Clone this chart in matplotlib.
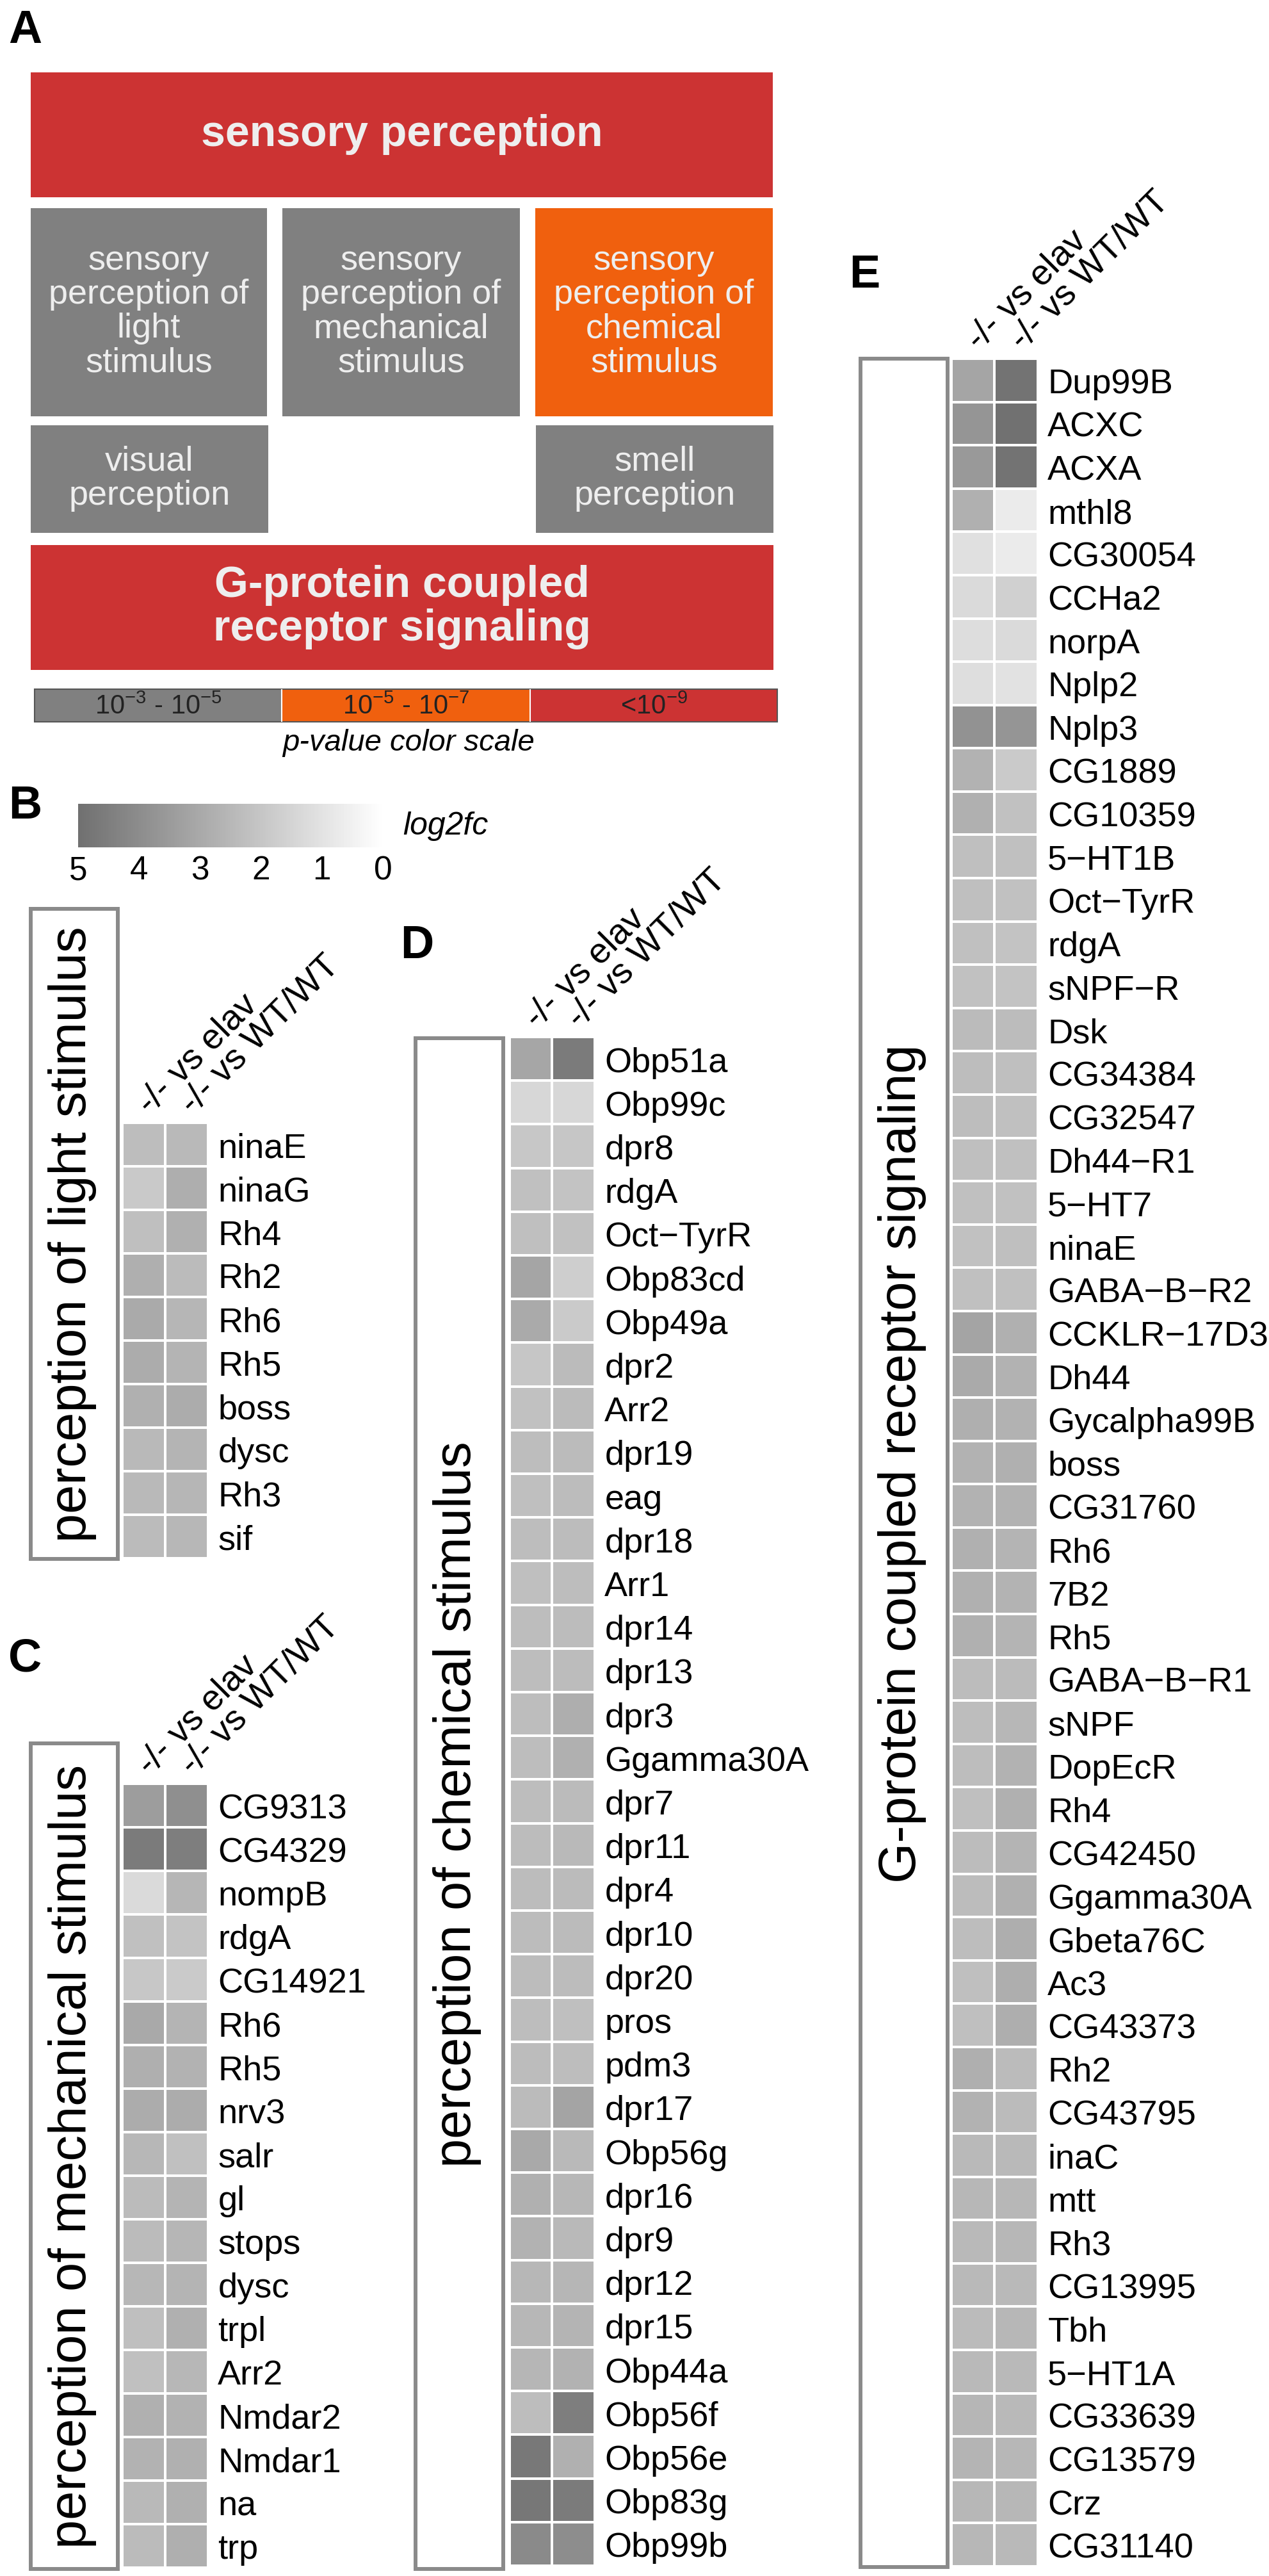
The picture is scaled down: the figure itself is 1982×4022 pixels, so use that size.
import numpy as np
import matplotlib
matplotlib.use("Agg")
import matplotlib.pyplot as plt
from matplotlib.patches import Rectangle
from matplotlib.colors import LinearSegmentedColormap, Normalize
from matplotlib.cm import ScalarMappable

plt.rcParams['font.family'] = ['Liberation Sans', 'DejaVu Sans']
plt.rcParams['mathtext.fontset'] = 'custom'
plt.rcParams['mathtext.rm'] = 'Liberation Sans'
plt.rcParams['mathtext.it'] = 'Liberation Sans:italic'

# ---- data ----
cols = ["-/- vs elav", "-/- vs WT/WT"]

B_genes = ["ninaE", "ninaG", "Rh4", "Rh2", "Rh6", "Rh5", "boss", "dysc", "Rh3", "sif"]
B_elav = [2.3, 1.9, 2.25, 2.8, 2.95, 2.9, 2.75, 2.45, 2.45, 2.4]
B_wt = [2.45, 2.85, 2.75, 2.4, 2.55, 2.6, 2.9, 2.6, 2.55, 2.5]

C_genes = ["CG9313", "CG4329", "nompB", "rdgA", "CG14921", "Rh6", "Rh5", "nrv3", "salr",
           "gl", "stops", "dysc", "trpl", "Arr2", "Nmdar2", "Nmdar1", "na", "trp"]
C_elav = [3.4, 4.6, 1.3, 2.2, 1.95, 3.0, 2.8, 2.9, 2.5, 2.4, 2.4, 2.5, 2.25, 2.2, 2.75, 2.7, 2.45, 2.4]
C_wt = [3.9, 4.5, 2.55, 2.1, 1.85, 2.6, 2.7, 2.9, 2.2, 2.6, 2.55, 2.6, 2.75, 2.5, 2.7, 2.75, 2.75, 2.8]

D_genes = ["Obp51a", "Obp99c", "dpr8", "rdgA", "Oct\u2212TyrR", "Obp83cd", "Obp49a", "dpr2", "Arr2",
           "dpr19", "eag", "dpr18", "Arr1", "dpr14", "dpr13", "dpr3", "Ggamma30A", "dpr7", "dpr11",
           "dpr4", "dpr10", "dpr20", "pros", "pdm3", "dpr17", "Obp56g", "dpr16", "dpr9", "dpr12",
           "dpr15", "Obp44a", "Obp56f", "Obp56e", "Obp83g", "Obp99b"]
D_elav = [3.1, 1.4, 1.95, 2.2, 2.25, 3.15, 2.95, 2.0, 2.15, 2.3, 2.25, 2.3, 2.25, 2.3, 2.3,
          2.3, 2.3, 2.3, 2.35, 2.35, 2.35, 2.35, 2.3, 2.35, 2.4, 3.0, 2.75, 2.7, 2.5, 2.5,
          2.55, 2.3, 4.7, 4.75, 4.1]
D_wt = [4.6, 1.4, 2.0, 2.1, 2.15, 1.7, 1.85, 2.4, 2.4, 2.4, 2.35, 2.35, 2.3, 2.35, 2.35,
        2.85, 2.75, 2.4, 2.45, 2.4, 2.4, 2.35, 2.25, 2.3, 3.2, 2.45, 2.5, 2.45, 2.55, 2.6,
        2.7, 4.5, 2.75, 4.6, 4.0]

E_genes = ["Dup99B", "ACXC", "ACXA", "mthl8", "CG30054", "CCHa2", "norpA", "Nplp2", "Nplp3",
           "CG1889", "CG10359", "5\u2212HT1B", "Oct\u2212TyrR", "rdgA", "sNPF\u2212R", "Dsk", "CG34384",
           "CG32547", "Dh44\u2212R1", "5\u2212HT7", "ninaE", "GABA\u2212B\u2212R2", "CCKLR\u221217D3", "Dh44",
           "Gycalpha99B", "boss", "CG31760", "Rh6", "7B2", "Rh5", "GABA\u2212B\u2212R1", "sNPF",
           "DopEcR", "Rh4", "CG42450", "Ggamma30A", "Gbeta76C", "Ac3", "CG43373", "Rh2",
           "CG43795", "inaC", "mtt", "Rh3", "CG13995", "Tbh", "5\u2212HT1A", "CG33639", "CG13579",
           "Crz", "CG31140"]
E_elav = [3.15, 3.7, 3.55, 2.75, 1.1, 1.3, 1.2, 1.15, 3.8, 2.7,
          2.75, 2.25, 2.25, 2.2, 2.15, 2.4, 2.3, 2.3, 2.25, 2.2,
          2.15, 2.2, 3.2, 2.95, 2.8, 2.7, 2.7, 2.75, 2.75, 2.75,
          2.35, 2.3, 2.3, 2.25, 2.35, 2.35, 2.3, 2.25, 2.25, 2.8,
          2.7, 2.45, 2.5, 2.45, 2.45, 2.4, 2.45, 2.55, 2.6, 2.5, 2.5]
E_wt = [4.9, 4.95, 4.9, 0.7, 0.7, 1.65, 1.3, 1.0, 3.7, 1.85,
        2.15, 2.2, 2.15, 2.1, 2.1, 2.35, 2.25, 2.2, 2.2, 2.15,
        2.25, 2.2, 2.75, 2.7, 2.7, 2.75, 2.7, 2.6, 2.65, 2.6,
        2.4, 2.5, 2.7, 2.75, 2.6, 2.75, 2.85, 2.85, 2.85, 2.4,
        2.4, 2.45, 2.5, 2.5, 2.45, 2.5, 2.45, 2.45, 2.5, 2.5, 2.45]

pval_labels = [r"10$^{-3}$ - 10$^{-5}$", r"10$^{-5}$ - 10$^{-7}$", r"<10$^{-9}$"]
pval_colors = ["#808080", "#f0600e", "#cc3333"]
cbar_ticks = [5, 4, 3, 2, 1, 0]

# ---- figure in pixel coordinates ----
W, H = 1983, 4023
fig = plt.figure(figsize=(W / 100, H / 100), dpi=100)
bg = fig.add_axes([0, 0, 1, 1])
bg.set_xlim(0, W)
bg.set_ylim(H, 0)
bg.axis('off')

def px_axes(x0, y0, x1, y1):
    return fig.add_axes([x0 / W, 1 - y1 / H, (x1 - x0) / W, (y1 - y0) / H])

txtc = '#eeeeee'

# panel letters
for lab, x, y in [("A", 13, 67), ("B", 13, 1278), ("C", 13, 2610), ("D", 625, 1496), ("E", 1326, 449)]:
    bg.text(x, y, lab, fontsize=52, fontweight='bold', ha='left', va='baseline')

# ---- panel A: GO term boxes ----
boxes = [
    (48, 114, 1207, 309, "#cc3333", "sensory perception", 49, 'bold'),
    (48, 326, 417, 651, "#808080", "sensory\nperception of\nlight\nstimulus", 39, 'normal'),
    (441, 326, 812, 651, "#808080", "sensory\nperception of\nmechanical\nstimulus", 39, 'normal'),
    (836, 326, 1207, 651, "#f0600e", "sensory\nperception of\nchemical\nstimulus", 39, 'normal'),
    (48, 665, 419, 833, "#808080", "visual\nperception", 39, 'normal'),
    (837, 665, 1208, 833, "#808080", "smell\nperception", 39, 'normal'),
    (48, 852, 1208, 1047, "#cc3333", "G-protein coupled\nreceptor signaling", 49, 'bold'),
]
for x0, y0, x1, y1, c, t, fs, fw in boxes:
    bg.add_patch(Rectangle((x0, y0), x1 - x0, y1 - y0, facecolor=c, edgecolor='none'))
    bg.text((x0 + x1) / 2, (y0 + y1) / 2 - 2, t, ha='center', va='center', color=txtc,
            fontsize=fs, fontweight=fw, linespacing=1.08)

# p-value color scale
edges = [54, 440, 828, 1214]
for i in range(3):
    bg.add_patch(Rectangle((edges[i], 1077), edges[i + 1] - edges[i], 51,
                           facecolor=pval_colors[i], edgecolor='none'))
    bg.text((edges[i] + edges[i + 1]) / 2, 1104, pval_labels[i], ha='center', va='center',
            fontsize=30, color='#222222')
for e in edges[1:-1]:
    bg.plot([e, e], [1078, 1127], color='white', lw=1.5)
bg.add_patch(Rectangle((54, 1077), 1160, 51, facecolor='none', edgecolor='#555555', lw=1.5))
bg.text(638, 1160, "p-value color scale", ha='center', va='center', fontsize=34, style='italic')

# ---- log2fc color bar ----
cmap = LinearSegmentedColormap.from_list('grey', ['#ffffff', '#707070'])
norm = Normalize(0, 5)
cax = px_axes(122, 1256, 598, 1324)
cb = fig.colorbar(ScalarMappable(norm=norm, cmap=cmap), cax=cax, orientation='horizontal')
cax.set_xlim(5, 0)
cb.outline.set_visible(False)
cb.set_ticks(cbar_ticks)
cb.set_ticklabels([str(t) for t in cbar_ticks])
cax.tick_params(length=0, labelsize=37, pad=8)
bg.text(629, 1290, "log2fc", ha='left', va='center', fontsize=36, style='italic')

# ---- heatmaps ----
def heat(x0, y0, x1, y1, genes, elav, wt):
    ax = px_axes(x0, y0, x1, y1)
    vals = np.column_stack([elav, wt])
    ax.pcolormesh(vals, cmap=cmap, norm=norm, edgecolors='white', linewidth=1.6)
    ax.set_xlim(0, 2)
    ax.set_ylim(len(genes), 0)
    ax.set_yticks(np.arange(len(genes)) + 0.5)
    ax.set_yticklabels(genes, fontsize=39)
    ax.yaxis.tick_right()
    ax.xaxis.tick_top()
    ax.set_xticks([0.5, 1.5])
    ax.set_xticklabels(cols, fontsize=40, rotation=45, ha='left', va='center',
                       rotation_mode='anchor')
    ax.tick_params(axis='y', length=0, pad=11)
    ax.tick_params(axis='x', length=0, pad=16)
    for s in ax.spines.values():
        s.set_visible(False)
    return ax

heat(191, 1754, 325, 2434, B_genes, B_elav, B_wt)
heat(191, 2786, 325, 4010, C_genes, C_elav, C_wt)
heat(796, 1620, 929, 4007, D_genes, D_elav, D_wt)
heat(1486, 561, 1621, 4008, E_genes, E_elav, E_wt)

# ---- side boxes with rotated titles ----
side = [
    (45, 1417, 187, 2438, "perception of light stimulus"),
    (45, 2720, 187, 4015, "perception of mechanical stimulus"),
    (646, 1619, 789, 4015, "perception of chemical stimulus"),
    (1341, 558, 1483, 4012, "G-protein coupled receptor signaling"),
]
for x0, y0, x1, y1, t in side:
    bg.add_patch(Rectangle((x0 + 3, y0 + 3), x1 - x0 - 6, y1 - y0 - 6, facecolor='white',
                           edgecolor='#8a8a8a', lw=4.3))
    bg.text((x0 + x1) / 2 - 3, (y0 + y1) / 2, t, rotation=90, ha='center', va='center',
            fontsize=58.5)

fig.savefig("out.png", dpi=100)
